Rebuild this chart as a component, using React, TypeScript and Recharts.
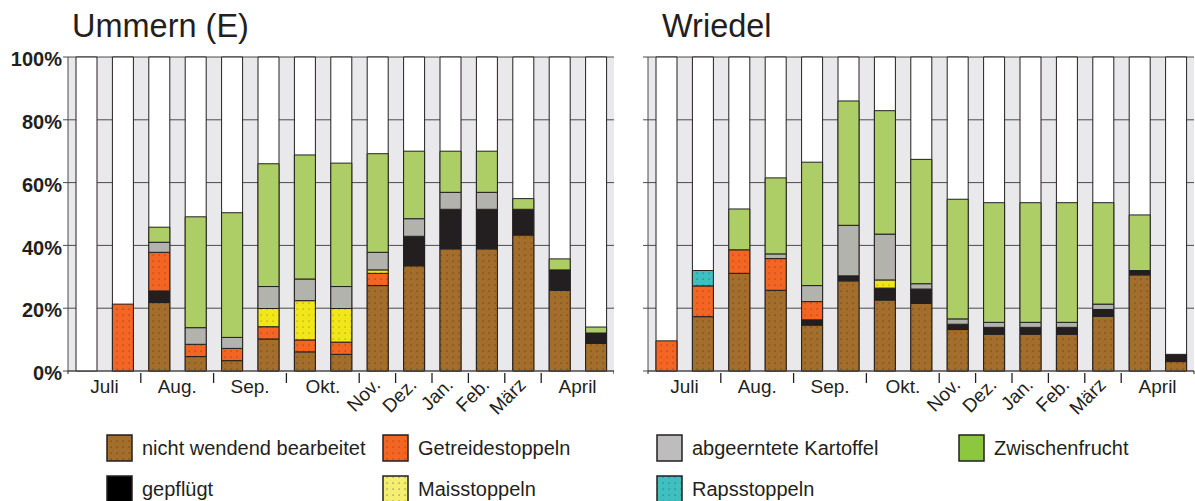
import React from 'react';
import { BarChart, Bar, XAxis, YAxis, CartesianGrid } from 'recharts';

// month label of every bar (15 bars per site)
const cats = ['Juli', 'Juli', 'Aug.', 'Aug.', 'Sep.', 'Sep.', 'Okt.', 'Okt.', 'Nov.', 'Dez.', 'Jan.', 'Feb.', 'März', 'April', 'April'];
const yTicks = [0, 20, 40, 60, 80, 100];
const FRAME = 100; // every bar is drawn as a full 100 % column

// Ummern (E)
const nichtWendendU = [0, 0, 21.8, 4.6, 3.3, 10.2, 6.1, 5.3, 27.2, 33.5, 38.9, 38.9, 43.3, 25.7, 8.8];
const gepfluegtU = [0, 0, 3.7, 0, 0, 0, 0, 0, 0, 9.4, 12.6, 12.6, 8.2, 6.5, 3.3];
const getreideU = [0, 21.3, 12.3, 3.9, 3.9, 3.9, 3.8, 3.9, 3.9, 0, 0, 0, 0, 0, 0];
const maisU = [0, 0, 0, 0, 0, 5.8, 12.5, 10.7, 1.1, 0, 0, 0, 0, 0, 0];
const rapsU = [0, 0, 0, 0, 0, 0, 0, 0, 0, 0, 0, 0, 0, 0, 0];
const kartoffelU = [0, 0, 3.2, 5.3, 3.5, 7.0, 6.9, 7.0, 5.6, 5.6, 5.4, 5.4, 0, 0, 0];
const zwischenU = [0, 0, 4.8, 35.3, 39.7, 39.1, 39.5, 39.3, 31.4, 21.5, 13.1, 13.1, 3.4, 3.5, 1.9];

// Wriedel
const nichtWendendW = [0, 17.3, 31.1, 25.7, 14.6, 28.7, 22.6, 21.5, 13.2, 11.7, 11.7, 11.7, 17.4, 30.6, 3.0];
const gepfluegtW = [0, 0, 0, 0, 1.7, 1.6, 3.8, 4.6, 1.7, 2.2, 2.2, 2.2, 2.2, 1.4, 2.3];
const getreideW = [9.6, 9.8, 7.5, 10.1, 5.8, 0, 0, 0, 0, 0, 0, 0, 0, 0, 0];
const maisW = [0, 0, 0, 0, 0, 0, 2.6, 0, 0, 0, 0, 0, 0, 0, 0];
const rapsW = [0, 4.9, 0, 0, 0, 0, 0, 0, 0, 0, 0, 0, 0, 0, 0];
const kartoffelW = [0, 0, 0, 1.5, 5.1, 16.1, 14.6, 1.7, 1.7, 1.6, 1.6, 1.6, 1.7, 0, 0];
const zwischenW = [0, 0, 13.0, 24.2, 39.3, 39.6, 39.3, 39.6, 38.1, 38.1, 38.1, 38.1, 32.3, 17.7, 0];

const FONT = '"Liberation Sans", Arial, sans-serif';
const INK = '#231f20';

const buildRows = (nw: number[], gp: number[], ge: number[], ma: number[], ra: number[], ka: number[], zw: number[]) =>
  cats.map((m, i) => ({ idx: i, month: m, frame: FRAME, nw: nw[i], gp: gp[i], ge: ge[i], ma: ma[i], ra: ra[i], ka: ka[i], zw: zw[i] }));

const rowsU = buildRows(nichtWendendU, gepfluegtU, getreideU, maisU, rapsU, kartoffelU, zwischenU);
const rowsW = buildRows(nichtWendendW, gepfluegtW, getreideW, maisW, rapsW, kartoffelW, zwischenW);

const PLOT_W = 546;
const BAND = PLOT_W / cats.length;

const XTick = (props: any) => {
  const { x, y } = props;
  const i = props.index ?? props.payload?.index ?? 0;
  const m = cats[i];
  const first = i === 0 || cats[i - 1] !== m;
  let count = 0;
  for (let k = i; k < cats.length && cats[k] === m; k++) count++;
  const els: React.ReactNode[] = [];
  if (first && i > 0) {
    els.push(<line key="t" x1={x - BAND / 2} x2={x - BAND / 2} y1={y + 2} y2={y + 12} stroke={INK} strokeWidth={1.3} />);
  }
  if (i === 0) els.push(<line key="s" x1={x - BAND / 2} x2={x - BAND / 2} y1={y} y2={y + 3} stroke={INK} />);
  if (i === cats.length - 1) els.push(<line key="e" x1={x + BAND / 2} x2={x + BAND / 2} y1={y} y2={y + 3} stroke={INK} />);
  if (first) {
    if (count > 1) {
      els.push(
        <text key="l" x={x + ((count - 1) * BAND) / 2} y={y + 22} textAnchor="middle" fontSize={19} fontFamily={FONT} fill={INK}>
          {m}
        </text>
      );
    } else {
      const ax = x + 4;
      const ay = y + 15;
      els.push(
        <text key="l" x={ax} y={ay} textAnchor="end" fontSize={19} fontFamily={FONT} fill={INK} transform={`rotate(-45 ${ax} ${ay})`}>
          {m}
        </text>
      );
    }
  }
  return <g>{els}</g>;
};

const seriesDefs = [
  { key: 'nw', fill: 'url(#pat-brown)' },
  { key: 'gp', fill: INK },
  { key: 'ge', fill: 'url(#pat-orange)' },
  { key: 'ma', fill: 'url(#pat-yellow)' },
  { key: 'ra', fill: 'url(#pat-teal)' },
  { key: 'ka', fill: '#b3b3ae' },
  { key: 'zw', fill: '#adce66' },
];

const SiteChart = ({ rows, showY }: { rows: any[]; showY: boolean }) => (
  <BarChart width={showY ? 614 : 615} height={430} data={rows} margin={{ top: 57, right: showY ? 0 : 1, bottom: 0, left: 0 }} barSize={21}>
    <CartesianGrid vertical={false} stroke="#4a4a4a" fill="#e9e9ec" />
    <XAxis dataKey="idx" height={59} interval={0} tickSize={0} tickMargin={0} tickLine={false} axisLine={{ stroke: '#4a4a4a' }} tick={<XTick />} />
    <XAxis xAxisId="frame" dataKey="idx" hide />
    <YAxis
      width={68}
      domain={[0, 100]}
      ticks={yTicks}
      interval={0}
      tickSize={5}
      tickMargin={1}
      axisLine={{ stroke: '#4a4a4a' }}
      tickLine={{ stroke: '#4a4a4a' }}
      tickFormatter={(v: number) => (showY ? `${v}%` : '')}
      tick={{ fontSize: 20, fontWeight: 'bold', fontFamily: FONT, fill: INK, dy: 2 }}
    />
    <Bar dataKey="frame" xAxisId="frame" fill="#ffffff" stroke={INK} strokeWidth={1} isAnimationActive={false} />
    {seriesDefs.map((s) => (
      <Bar key={s.key} dataKey={s.key} stackId="a" fill={s.fill} stroke={INK} strokeWidth={1} isAnimationActive={false} />
    ))}
  </BarChart>
);

const legendItems = [
  { label: 'nicht wendend bearbeitet', fill: 'url(#pat-brown)', x: 107, row: 0 },
  { label: 'Getreidestoppeln', fill: 'url(#pat-orange)', x: 383, row: 0 },
  { label: 'abgeerntete Kartoffel', fill: '#bdbdbd', x: 657, row: 0 },
  { label: 'Zwischenfrucht', fill: '#8dc63f', x: 959, row: 0 },
  { label: 'gepflügt', fill: '#000000', x: 107, row: 1 },
  { label: 'Maisstoppeln', fill: 'url(#pat-ylight)', x: 383, row: 1 },
  { label: 'Rapsstoppeln', fill: 'url(#pat-teal)', x: 657, row: 1 },
];

const Pattern = ({ id, base, dot }: { id: string; base: string; dot: string }) => (
  <pattern id={id} width={6} height={6} patternUnits="userSpaceOnUse">
    <rect width={6} height={6} fill={base} />
    <rect x={2.5} y={2.5} width={1.2} height={1.2} fill={dot} />
  </pattern>
);

export default function App() {
  return (
    <div style={{ position: 'absolute', left: 0, top: 0, width: 1195, height: 501, background: '#fff', overflow: 'hidden' }}>
      <svg width={0} height={0} style={{ position: 'absolute' }}>
        <defs>
          <Pattern id="pat-brown" base="#a36e2b" dot="#6a4214" />
          <Pattern id="pat-orange" base="#f26522" dot="#a8401a" />
          <Pattern id="pat-yellow" base="#f0e619" dot="#a59d10" />
          <Pattern id="pat-ylight" base="#f5ee6f" dot="#777" />
          <Pattern id="pat-teal" base="#3fbfc0" dot="#1d7a7c" />
        </defs>
      </svg>
      <div style={{ position: 'absolute', left: 0, top: 0 }}>
        <SiteChart rows={rowsU} showY={true} />
      </div>
      <div style={{ position: 'absolute', left: 580, top: 0 }}>
        <SiteChart rows={rowsW} showY={false} />
      </div>
      <svg width={1195} height={501} style={{ position: 'absolute', left: 0, top: 0, pointerEvents: 'none' }}>
        <text x={72} y={37} fontSize={32.5} fontFamily={FONT} fill={INK}>Ummern (E)</text>
        <text x={662} y={37} fontSize={32.5} fontFamily={FONT} fill={INK}>Wriedel</text>
        {legendItems.map((it) => {
          const cy = it.row === 0 ? 448 : 489;
          return (
            <g key={it.label}>
              <rect x={it.x} y={cy - 13} width={25} height={26} fill={it.fill} stroke={INK} strokeWidth={1.5} />
              <text x={it.x + 35} y={cy + 7} fontSize={20} fontFamily={FONT} fill={INK}>{it.label}</text>
            </g>
          );
        })}
      </svg>
    </div>
  );
}
